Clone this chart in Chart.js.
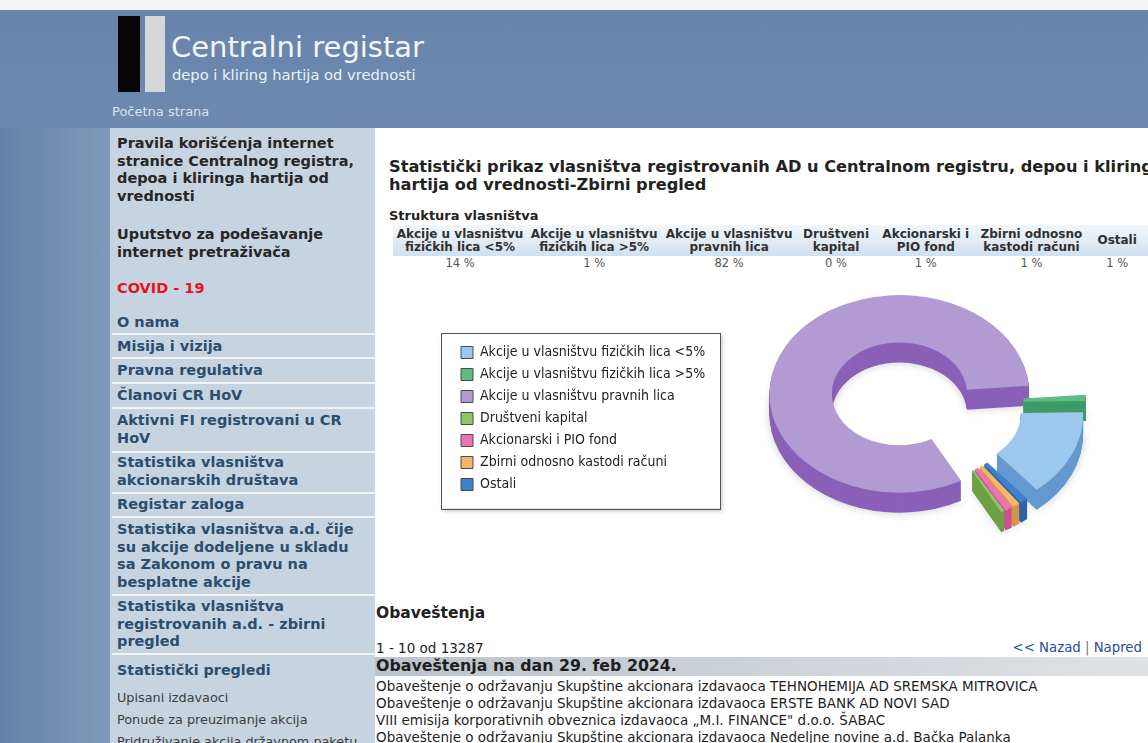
<!DOCTYPE html>
<html>
<head>
<meta charset="utf-8">
<script src="https://cdn.jsdelivr.net/npm/chart.js@4/dist/chart.umd.min.js"></script>
<style>
html, body { margin: 0; padding: 0; }
body { width: 1148px; height: 743px; overflow: hidden; position: relative; background: #fff;
  font-family: 'DejaVu Sans', sans-serif; color: #222; }
.a { position: absolute; white-space: nowrap; }
#top { left: 0; top: 0; width: 1148px; height: 10px; background: #f4f5f7; }
#head { left: 0; top: 10px; width: 1148px; height: 118px; background: linear-gradient(180deg, #6884aa, #6f8ab0); }
#leftcol { left: 0; top: 128px; width: 110px; height: 615px; background: linear-gradient(90deg, #6681a8, #819abb); }
#side { left: 110px; top: 128px; width: 265px; height: 615px; background: #c6d4e1; }
.bar1 { left: 118px; top: 16px; width: 22px; height: 76px; background: #050505; }
.bar2 { left: 145px; top: 16px; width: 20px; height: 76px; background: #d6d7d9; }
.logo1 { left: 171px; top: 30px; font-size: 29px; color: #f2f5f9; }
.logo2 { left: 172px; top: 66px; font-size: 14.7px; color: #eef2f7; }
.home { left: 112px; top: 104px; font-size: 13px; color: #d9e2ee; }
.m { left: 117px; font-weight: bold; font-size: 14.5px; line-height: 17.5px; color: #2c4d6c; }
.m.dark { color: #262626; }
.m.red { color: #e5141c; }
.sep { left: 112px; width: 263px; height: 2px; background: #f2f5f8; }
.sub { left: 117px; font-size: 12.8px; color: #3c3c3c; }
.h1 { left: 389px; top: 158px; font-weight: bold; font-size: 16.2px; line-height: 18px; }
.h2 { left: 389px; top: 208px; font-weight: bold; font-size: 13px; }
#tbl { position: absolute; left: 393px; top: 225px; border-collapse: collapse; table-layout: fixed; }
#tbl th { font-size: 12px; font-weight: bold; color: #303030; line-height: 13px; height: 31px; padding: 0 2px;
  background: linear-gradient(180deg, #f3f7fb, #cfe0ef); text-align: center; vertical-align: middle; }
#tbl td { font-size: 11.5px; color: #555; text-align: center; padding-top: 0; line-height: 14px; }
#chartBox { position: absolute; left: 433px; top: 281px; }
.ob { left: 376px; top: 604px; font-weight: bold; font-size: 15.5px; }
.cnt { left: 376px; top: 640px; font-size: 13.5px; }
.nav { right: 6px; top: 640px; font-size: 13.3px; color: #2b4c9c; }
.nav span { color: #777; }
.dayBar { left: 375px; top: 657px; width: 773px; height: 19px; background: linear-gradient(90deg, #bcc3ca, #dfe2e5); }
.day { left: 376px; top: 656px; font-weight: bold; font-size: 15.8px; line-height: 19px; color: #1e1e1e; }
.n { left: 376px; font-size: 13.5px; color: #1e1e1e; }
</style>
</head>
<body>
<div id="top" class="a"></div>
<div id="head" class="a"></div>
<div id="leftcol" class="a"></div>
<div id="side" class="a"></div>
<div class="a bar1"></div>
<div class="a bar2"></div>
<div class="a logo1">Centralni registar</div>
<div class="a logo2">depo i kliring hartija od vrednosti</div>
<div class="a home">Početna strana</div>

<div class="a m dark" style="top:135px">Pravila korišćenja internet<br>stranice Centralnog registra,<br>depoa i kliringa hartija od<br>vrednosti</div>
<div class="a m dark" style="top:226px">Uputstvo za podešavanje<br>internet pretraživača</div>
<div class="a m red" style="top:280px">COVID - 19</div>
<div class="a m" style="top:314px">O nama</div>
<div class="a sep" style="top:333px"></div>
<div class="a m" style="top:338px">Misija i vizija</div>
<div class="a sep" style="top:357px"></div>
<div class="a m" style="top:362px">Pravna regulativa</div>
<div class="a sep" style="top:382px"></div>
<div class="a m" style="top:387px">Članovi CR HoV</div>
<div class="a sep" style="top:407px"></div>
<div class="a m" style="top:412px">Aktivni FI registrovani u CR<br>HoV</div>
<div class="a sep" style="top:451px"></div>
<div class="a m" style="top:454px">Statistika vlasništva<br>akcionarskih društava</div>
<div class="a sep" style="top:492px"></div>
<div class="a m" style="top:496px">Registar zaloga</div>
<div class="a sep" style="top:516px"></div>
<div class="a m" style="top:521px">Statistika vlasništva a.d. čije<br>su akcije dodeljene u skladu<br>sa Zakonom o pravu na<br>besplatne akcije</div>
<div class="a sep" style="top:594px"></div>
<div class="a m" style="top:598px">Statistika vlasništva<br>registrovanih a.d. - zbirni<br>pregled</div>
<div class="a sep" style="top:653px"></div>
<div class="a m" style="top:662px;font-size:14.3px">Statistički pregledi</div>
<div class="a sub" style="top:690px">Upisani izdavaoci</div>
<div class="a sub" style="top:712px">Ponude za preuzimanje akcija</div>
<div class="a sub" style="top:734px">Pridruživanje akcija državnom paketu</div>

<div class="a h1">Statistički prikaz vlasništva registrovanih AD u Centralnom registru, depou i kliringu<br>hartija od vrednosti-Zbirni pregled</div>
<div class="a h2">Struktura vlasništva</div>
<table id="tbl"><thead><tr id="thead"></tr></thead><tbody><tr id="tvals"></tr></tbody></table>

<div id="chartBox"><canvas id="pie" width="700" height="275"></canvas></div>

<div class="a ob">Obaveštenja</div>
<div class="a cnt">1 - 10 od 13287</div>
<div class="a nav">&lt;&lt; Nazad <span>|</span> Napred</div>
<div class="a dayBar"></div>
<div class="a day">Obaveštenja na dan 29. feb 2024.</div>
<div class="a n" style="top:678px">Obaveštenje o održavanju Skupštine akcionara izdavaoca TEHNOHEMIJA AD SREMSKA MITROVICA</div>
<div class="a n" style="top:695px">Obaveštenje o održavanju Skupštine akcionara izdavaoca ERSTE BANK AD NOVI SAD</div>
<div class="a n" style="top:712px">VIII emisija korporativnih obveznica izdavaoca „M.I. FINANCE" d.o.o. ŠABAC</div>
<div class="a n" style="top:729px">Obaveštenje o održavanju Skupštine akcionara izdavaoca Nedeljne novine a.d. Bačka Palanka</div>

<script>
// ownership categories (legend order)
const categories = [
  "Akcije u vlasništvu fizičkih lica <5%",
  "Akcije u vlasništvu fizičkih lica >5%",
  "Akcije u vlasništvu pravnih lica",
  "Društveni kapital",
  "Akcionarski i PIO fond",
  "Zbirni odnosno kastodi računi",
  "Ostali",
];
// share in %
const shares = [14.2, 1.0, 81.6, 0.45, 0.9, 0.9, 1.0];

const topColors = ["#9dc8ee", "#5cbd86", "#b29ad3", "#8fc566", "#ec74b4", "#f5b56c", "#3f82cc"];
const sideColors = ["#6499d0", "#3f9a66", "#8a60b8", "#6ea048", "#c9528f", "#d8944a", "#2c62a6"];
const colWidths = [138, 138, 140, 75, 100, 112, 60];
const explode = [32, 32, 28, 32, 32, 32, 32];

const TILT = 0.76;
const DEPTH = 20;
const LIFT = -14.5;

// table above the chart
const thead = document.getElementById("thead");
const tvals = document.getElementById("tvals");
categories.forEach((c, i) => {
  const th = document.createElement("th");
  th.style.width = colWidths[i] + "px";
  th.textContent = c;
  thead.appendChild(th);
  const td = document.createElement("td");
  td.textContent = Math.round(shares[i]) + " %";
  tvals.appendChild(td);
});

function tilt(ctx, cx, cy) {
  ctx.translate(cx, cy + LIFT);
  ctx.scale(-1, TILT);
  ctx.translate(-cx, -cy);
}

// squashed, exploded doughnut with a side wall
const pie3d = {
  id: "pie3d",
  beforeDatasetsDraw(chart) {
    const ctx = chart.ctx;
    const arcs = chart.getDatasetMeta(0).data;
    const cx = arcs[0].x;
    const cy = arcs[0].y;
    for (let d = DEPTH; d >= 1; d--) {
      arcs.forEach((arc, i) => {
        const mid = (arc.startAngle + arc.endAngle) / 2;
        ctx.save();
        ctx.translate(0, d);
        tilt(ctx, cx, cy);
        ctx.translate(Math.cos(mid) * explode[i], Math.sin(mid) * explode[i]);
        ctx.beginPath();
        ctx.arc(arc.x, arc.y, arc.outerRadius, arc.startAngle, arc.endAngle);
        ctx.arc(arc.x, arc.y, arc.innerRadius, arc.endAngle, arc.startAngle, true);
        ctx.closePath();
        if (d === DEPTH) {
          ctx.shadowColor = "rgba(0,0,0,0.2)";
          ctx.shadowBlur = 10;
        }
        ctx.fillStyle = sideColors[i];
        ctx.fill();
        ctx.restore();
      });
    }
    arcs.forEach((arc, i) => {
      const mid = (arc.startAngle + arc.endAngle) / 2;
      ctx.save();
      tilt(ctx, cx, cy);
      ctx.translate(Math.cos(mid) * explode[i], Math.sin(mid) * explode[i]);
      arc.draw(ctx);
      ctx.restore();
    });
    return false;
  },
};

// framed legend
const legendFrame = {
  id: "legendFrame",
  beforeDraw(chart) {
    const boxes = chart.legend.legendHitBoxes;
    const l = Math.min(...boxes.map((b) => b.left)) - 20;
    const t = Math.min(...boxes.map((b) => b.top)) - 13;
    const r = Math.max(...boxes.map((b) => b.left + b.width)) + 15;
    const b = Math.max(...boxes.map((b) => b.top + b.height)) + 17;
    const ctx = chart.ctx;
    ctx.save();
    ctx.shadowColor = "rgba(0,0,0,0.25)";
    ctx.shadowBlur = 4;
    ctx.shadowOffsetX = 2;
    ctx.shadowOffsetY = 2;
    ctx.fillStyle = "#fff";
    ctx.fillRect(l, t, r - l, b - t);
    ctx.restore();
    ctx.strokeStyle = "#555";
    ctx.lineWidth = 1;
    ctx.strokeRect(Math.round(l) + 0.5, Math.round(t) + 0.5, Math.round(r - l), Math.round(b - t));
  },
};

const ctx = document.getElementById("pie").getContext("2d");
const myChart = new Chart(ctx, {
  type: "doughnut",
  data: {
    labels: categories,
    datasets: [
      {
        data: shares,
        backgroundColor: topColors,
        borderWidth: 0,
      },
    ],
  },
  options: {
    responsive: false,
    animation: false,
    rotation: 220,
    radius: 130,
    cutout: "52%",
    layout: { padding: { left: 20, right: 0, top: 0, bottom: 0 } },
    plugins: {
      tooltip: { enabled: false },
      legend: {
        position: "left",
        labels: {
          boxWidth: 12,
          boxHeight: 12,
          padding: 8,
          color: "#222",
          font: { family: "'DejaVu Sans Condensed', 'DejaVu Sans', sans-serif", size: 14 },
          generateLabels(chart) {
            const items = Chart.overrides.doughnut.plugins.legend.labels.generateLabels(chart);
            items.forEach((it) => {
              it.strokeStyle = "#4a4a4a";
              it.lineWidth = 1;
            });
            return items;
          },
        },
      },
    },
  },
  plugins: [legendFrame, pie3d],
});
</script>
</body>
</html>
